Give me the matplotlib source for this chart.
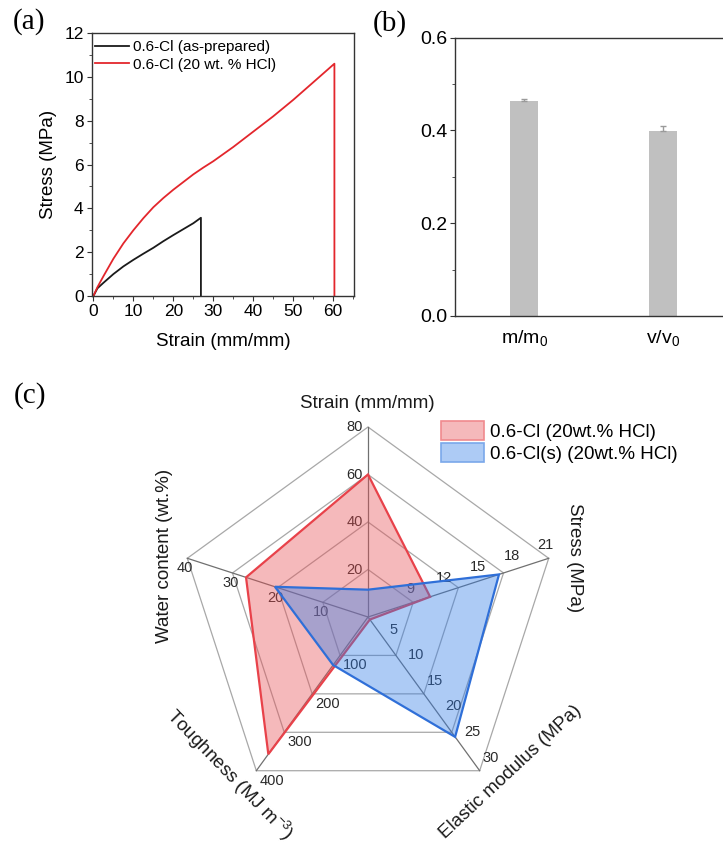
import numpy as np
import matplotlib
matplotlib.use('Agg')
import matplotlib.pyplot as plt
from matplotlib.patches import Patch, Polygon
from matplotlib.ticker import MultipleLocator

plt.rcParams['font.family'] = ['Liberation Sans', 'DejaVu Sans']
plt.rcParams['mathtext.fontset'] = 'custom'
plt.rcParams['mathtext.rm'] = 'Liberation Sans'
plt.rcParams['mathtext.it'] = 'Liberation Sans:italic'

# (a) stress-strain curves
strain_asprep = [0, 1, 2.5, 5, 7.5, 10, 12.5, 15, 17.5, 20, 22.5, 25, 26.9, 26.9]
stress_asprep = [0, 0.35, 0.6, 1.0, 1.35, 1.65, 1.93, 2.2, 2.5, 2.78, 3.05, 3.32, 3.57, 0]
strain_hcl = [0, 1, 2.5, 5, 7.5, 10, 12.5, 15, 17.5, 20, 22.5, 25, 27.5, 30, 35, 40, 45, 50, 55, 60.3, 60.3]
stress_hcl = [0, 0.4, 0.9, 1.7, 2.4, 3.0, 3.55, 4.05, 4.47, 4.85, 5.2, 5.55, 5.86, 6.15, 6.8, 7.5, 8.2, 8.95, 9.75, 10.6, 0]

# (b) ratio bars
ratio_labels = ['m/m$_0$', 'v/v$_0$']
ratio_values = [0.464, 0.399]
ratio_errors = [0.004, 0.011]

# (c) radar chart
radar_titles = ['Strain (mm/mm)', 'Stress (MPa)', 'Elastic modulus (MPa)',
                'Toughness (MJ m$^{-3}$)', 'Water content (wt.%)']
radar_min = [0, 5, 0, 0, 0]
radar_max = [80, 21, 30, 400, 40]
radar_ticks = [[20, 40, 60, 80], [9, 12, 15, 18, 21], [5, 10, 15, 20, 25, 30],
               [100, 200, 300, 400], [10, 20, 30, 40]]
red_values = [60, 10.5, 0.5, 357, 27]
blue_values = [11.5, 16.6, 23.4, 125, 20.6]
series_names = ['0.6-Cl (20wt.% HCl)', '0.6-Cl(s) (20wt.% HCl)']

W, H = 723, 846
fig = plt.figure(figsize=(W / 100, H / 100), dpi=100)

# ---------- panel (a)
ax_a = fig.add_axes([92 / W, 1 - 296 / H, 262 / W, 263 / H])
ax_a.plot(strain_asprep, stress_asprep, color='#1a1a1a', lw=1.3, label='0.6-Cl (as-prepared)')
ax_a.plot(strain_hcl, stress_hcl, color='#e3262c', lw=1.3, label='0.6-Cl (20 wt. % HCl)')
ax_a.set_xlim(-0.35, 65.2)
ax_a.set_ylim(0, 12)
ax_a.xaxis.set_major_locator(MultipleLocator(10))
ax_a.xaxis.set_minor_locator(MultipleLocator(5))
ax_a.yaxis.set_major_locator(MultipleLocator(2))
ax_a.yaxis.set_minor_locator(MultipleLocator(1))
ax_a.tick_params(which='both', direction='out', labelsize=12.5, pad=2.5, color='#333333')
ax_a.tick_params(which='major', length=3.5)
ax_a.tick_params(which='minor', length=2)
for s in ax_a.spines.values():
    s.set_color('#333333')
    s.set_linewidth(1.0)
ax_a.set_xlabel('Strain (mm/mm)', fontsize=13.5, labelpad=10)
ax_a.set_ylabel('Stress (MPa)', fontsize=13.5, labelpad=5)
ax_a.legend(loc='upper left', bbox_to_anchor=(95 / W, 1 - 40 / H), bbox_transform=fig.transFigure,
            frameon=False, fontsize=11, handlelength=2.2, handletextpad=0.3,
            labelspacing=0.25, borderpad=0, borderaxespad=0)

# ---------- panel (b)
ax_b = fig.add_axes([455 / W, 1 - 316 / H, 277 / W, 278.3 / H])
xpos = np.arange(1, len(ratio_values) + 1)
ax_b.bar(xpos, ratio_values, width=0.2, color='#c0c0c0',
         yerr=[[0] * len(ratio_errors), ratio_errors], ecolor='#9a9a9a',
         error_kw=dict(capsize=2.5, elinewidth=1, capthick=1))
ax_b.set_xlim(0.5, 2.5)
ax_b.set_ylim(0, 0.6)
ax_b.set_xticks(xpos)
ax_b.set_xticklabels(ratio_labels)
ax_b.yaxis.set_major_locator(MultipleLocator(0.2))
ax_b.yaxis.set_minor_locator(MultipleLocator(0.1))
ax_b.tick_params(axis='y', which='both', direction='out', labelsize=14, pad=2, color='#333333')
ax_b.tick_params(axis='y', which='major', length=3.5)
ax_b.tick_params(axis='y', which='minor', length=2)
ax_b.tick_params(axis='x', length=0, labelsize=14, pad=9)
for s in ax_b.spines.values():
    s.set_color('#333333')
    s.set_linewidth(1.0)

# ---------- panel (c)
cx_px, cy_px, R = 368, 617, 190
top_px = 350
ax_c = fig.add_axes([0, 0, 1, (H - top_px) / H])
ax_c.set_xlim(-cx_px / R, (W - cx_px) / R)
ax_c.set_ylim(-(H - cy_px) / R, (cy_px - top_px) / R)
ax_c.axis('off')

angles = np.deg2rad([90, 18, -54, -126, 162])
ux, uy = np.cos(angles), np.sin(angles)

def to_xy(vals):
    r = [(v - lo) / (hi - lo) for v, lo, hi in zip(vals, radar_min, radar_max)]
    return np.column_stack([np.array(r) * ux, np.array(r) * uy])

# grid rings and spokes
for lev in [0.25, 0.5, 0.75, 1.0]:
    ring = np.column_stack([lev * ux, lev * uy])
    ax_c.add_patch(Polygon(ring, closed=True, fill=False, edgecolor='#a8a8a8', lw=0.9, zorder=1))
for i in range(5):
    ax_c.plot([0, ux[i]], [0, uy[i]], color='#707070', lw=0.9, zorder=1.2)

# tick labels: (ha, dx_px, dy_px) with dy in screen pixels (down positive)
tick_style = [('right', -5, 0), ('center', -3, -13), ('left', 3, -13), ('left', 3, 10), ('center', -2, 10)]
for i in range(5):
    ha, dx, dy = tick_style[i]
    for t in radar_ticks[i]:
        r = (t - radar_min[i]) / (radar_max[i] - radar_min[i])
        ax_c.text(r * ux[i] + dx / R, r * uy[i] - dy / R, str(t), ha=ha, va='center',
                  fontsize=10.5, color='#2a2a2a', zorder=2)

# axis titles (pixel centre, rotation)
title_pos = [(367, 403, 0), (575, 558, -90), (511, 772, 43), (230, 775, -46), (164, 556, 90)]
for (px, py, rot), name in zip(title_pos, radar_titles):
    ax_c.text((px - cx_px) / R, (cy_px - py) / R, name, ha='center', va='center',
              rotation=rot, rotation_mode='anchor', fontsize=13.5, color='#1a1a1a')

red_fc = (232 / 255, 80 / 255, 85 / 255, 0.4)
blue_fc = (50 / 255, 125 / 255, 232 / 255, 0.4)
ax_c.add_patch(Polygon(to_xy(red_values), closed=True, facecolor=red_fc,
                       edgecolor='#e8424a', lw=1.6, zorder=3))
ax_c.add_patch(Polygon(to_xy(blue_values), closed=True, facecolor=blue_fc,
                       edgecolor='#2f6fd8', lw=1.6, zorder=4))

handles = [Patch(facecolor=red_fc, edgecolor='#f08a8e', lw=1.2),
           Patch(facecolor=blue_fc, edgecolor='#7aa8ea', lw=1.2)]
ax_c.legend(handles, series_names, loc='upper left', bbox_to_anchor=(441 / W, 1 - 421 / H),
            bbox_transform=fig.transFigure, frameon=False, fontsize=13.5,
            handlelength=2.3, handleheight=1.2, handletextpad=0.3, labelspacing=0.1,
            borderpad=0, borderaxespad=0)

# panel letters
for lab, px, py in [('(a)', 29, 22), ('(b)', 390, 24), ('(c)', 30, 396)]:
    fig.text(px / W, 1 - py / H, lab, ha='center', va='center', fontsize=21,
             family=['Liberation Serif', 'DejaVu Serif'])

fig.savefig('out.png', dpi=100)
